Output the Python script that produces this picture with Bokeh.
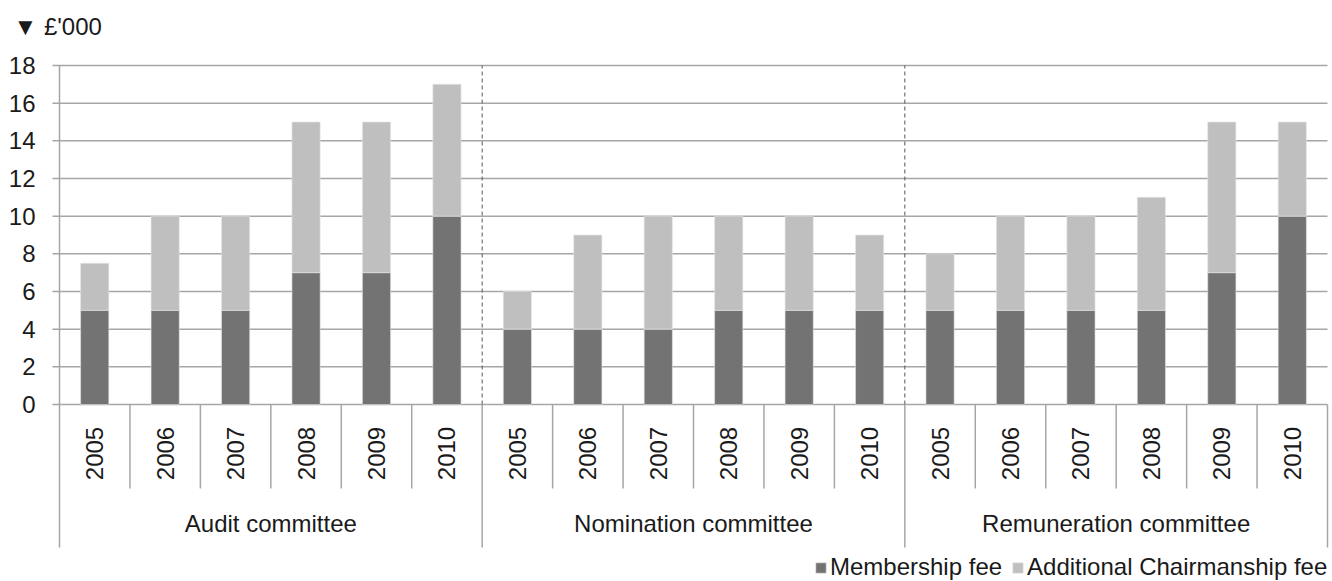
import numpy as np
from bokeh.plotting import figure
from bokeh.models import (Range1d, Legend, LegendItem, ColumnDataSource)
from bokeh.core.properties import value
from bokeh.embed import file_html
from bokeh.resources import INLINE

# ---- data ----
committees = ["Audit committee", "Nomination committee", "Remuneration committee"]
years = ["2005", "2006", "2007", "2008", "2009", "2010"]
membership_fee = [5, 5, 5, 7, 7, 10,
                  4, 4, 4, 5, 5, 5,
                  5, 5, 5, 5, 7, 10]
additional_chair_fee = [2.5, 5, 5, 8, 8, 7,
                        2, 5, 6, 5, 5, 4,
                        3, 5, 5, 6, 8, 5]
y_ticks = [0, 2, 4, 6, 8, 10, 12, 14, 16, 18]
unit_label = "▼ £'000"

FONT = "Liberation Sans"
TEXT_COLOR = "#1a1a1a"
GRID_COLOR = "#a6a6a6"
DARK = "#737373"
LIGHT = "#bfbfbf"

W, H = 1332, 581
n_years = len(years)
n_cat = len(committees) * n_years
xc = np.arange(n_cat) + 0.5
mem = np.array(membership_fee, dtype=float)
add = np.array(additional_chair_fee, dtype=float)
total = mem + add
y_max = float(y_ticks[-1])

# pixel geometry: plot area x 59..1327, y: value y_max at 65 px, 0 at 404 px
PL, PR, PT, P0 = 59, 1327, 65, 404
pxx = (PR - PL) / n_cat
pxy = (P0 - PT) / y_max


def dx(px):
    return (px - PL) / pxx


def dy(py):
    return (P0 - py) / pxy


p = figure(width=W, height=H, output_backend="svg", toolbar_location=None,
           x_range=Range1d(dx(0), dx(W)), y_range=Range1d(dy(H), dy(0)),
           x_axis_location=None, y_axis_location=None,
           min_border=0)
p.outline_line_color = None
p.background_fill_color = "white"
p.border_fill_color = "white"
p.xgrid.visible = False
p.ygrid.visible = False

yt = np.array(y_ticks, dtype=float)
# gridlines (with outward tick marks)
p.segment(x0=np.full(len(yt), dx(52)), y0=yt, x1=np.full(len(yt), float(n_cat)), y1=yt,
          line_color=GRID_COLOR, line_width=1.5)
# y tick labels
p.text(x=np.full(len(yt), dx(35)), y=yt, text=[str(t) for t in y_ticks],
       text_align="right", text_baseline="middle", text_font=value(FONT),
       text_font_size="24px", text_color=TEXT_COLOR)
# vertical axis line
p.segment(x0=[0], y0=[0], x1=[0], y1=[y_max], line_color=GRID_COLOR, line_width=1.5)

# dashed separators between committees
group_edges = np.arange(0, n_cat + 1, n_years).astype(float)
inner = group_edges[1:-1]
p.segment(x0=inner, y0=np.zeros(len(inner)), x1=inner, y1=np.full(len(inner), y_max),
          line_color="#555555", line_width=1, line_dash="4 3")

# bars
src = ColumnDataSource(dict(x=xc, mem=mem, total=total))
r1 = p.vbar(x="x", bottom=0, top="mem", width=0.4, source=src,
            fill_color=DARK, line_color="#e0e0e0", line_width=0.6)
r2 = p.vbar(x="x", bottom="mem", top="total", width=0.4, source=src,
            fill_color=LIGHT, line_color="#e6e6e6", line_width=0.6)

# category axis separators
cat_edges = np.array([e for e in range(n_cat + 1) if e % n_years != 0], dtype=float)
p.segment(x0=cat_edges, y0=np.zeros(len(cat_edges)), x1=cat_edges,
          y1=np.full(len(cat_edges), dy(488)), line_color=GRID_COLOR, line_width=1.5)
p.segment(x0=group_edges, y0=np.zeros(len(group_edges)), x1=group_edges,
          y1=np.full(len(group_edges), dy(547)), line_color=GRID_COLOR, line_width=1.5)

# year labels
p.text(x=xc, y=np.full(n_cat, dy(453)), text=years * len(committees), angle=np.pi / 2,
       text_align="center", text_baseline="middle", text_font=value(FONT),
       text_font_size="24px", text_color=TEXT_COLOR)
# committee labels
gc = group_edges[:-1] + n_years / 2.0
p.text(x=gc, y=np.full(len(gc), dy(523)), text=committees,
       text_align="center", text_baseline="middle", text_font=value(FONT),
       text_font_size="24px", text_color=TEXT_COLOR)

# unit label
p.text(x=[dx(13)], y=[dy(26)], text=[unit_label],
       text_align="left", text_baseline="middle", text_font=value(FONT),
       text_font_size="24px", text_color=TEXT_COLOR)

legend = Legend(items=[LegendItem(label="Membership fee", renderers=[r1]),
                       LegendItem(label="Additional Chairmanship fee", renderers=[r2])],
                orientation="horizontal", location=(814, 0),
                glyph_width=13, glyph_height=13, label_standoff=3, spacing=9,
                padding=0, margin=0, border_line_color=None, background_fill_alpha=0,
                label_text_font=FONT, label_text_font_size="24px",
                label_text_color=TEXT_COLOR, label_height=24)
p.add_layout(legend)

open("out.html", "w").write(file_html(p, INLINE))
